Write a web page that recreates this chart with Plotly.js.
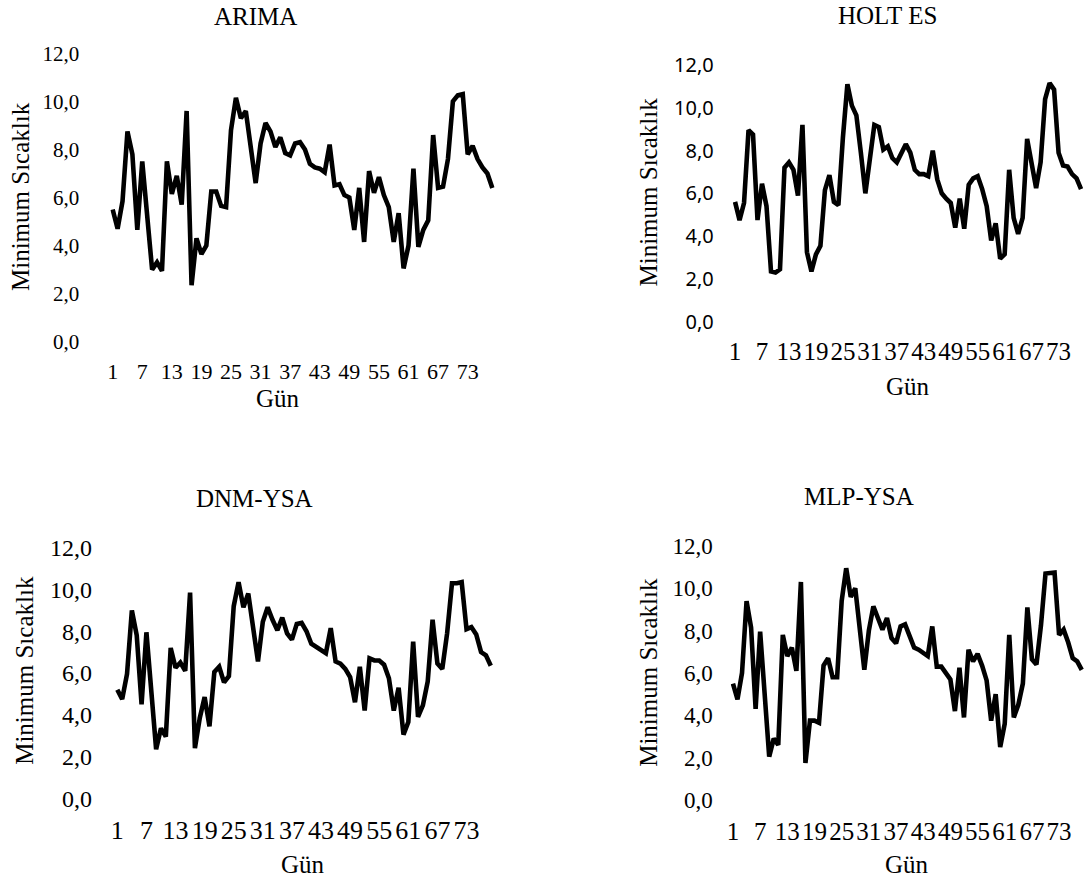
<!DOCTYPE html>
<html><head><meta charset="utf-8">
<script src="https://cdn.plot.ly/plotly-3.0.1.min.js"></script>
<style>html,body{margin:0;padding:0;background:#fff}#chart{width:1089px;height:880px}</style>
</head><body><div id="chart"></div>
<script>
// Day index (Gün)
const days = [1,2,3,4,5,6,7,8,9,10,11,12,13,14,15,16,17,18,19,20,21,22,23,24,25,26,27,28,29,30,31,32,33,34,35,36,37,38,39,40,41,42,43,44,45,46,47,48,49,50,51,52,53,54,55,56,57,58,59,60,61,62,63,64,65,66,67,68,69,70,71,72,73,74,75,76,77,78];

const arima = [5.5,4.7,5.85,8.75,7.8,4.65,7.5,5.0,3.0,3.3,
  2.95,7.5,6.15,6.9,5.7,9.6,2.35,4.3,3.65,4.0,
  6.25,6.25,5.65,5.6,8.8,10.15,9.3,9.6,8.0,6.6,
  8.25,9.1,8.75,8.1,8.5,7.85,7.75,8.25,8.3,8.0,
  7.4,7.25,7.2,7.05,8.2,6.5,6.55,6.1,6.0,4.65,
  6.4,4.15,7.1,6.2,6.85,6.1,5.6,4.15,5.35,3.05,
  4.0,7.2,3.95,4.65,5.05,8.6,6.4,6.45,7.6,10.0,
  10.25,10.3,7.8,8.15,7.6,7.25,7.0,6.4];

const holtEs = [5.6,4.75,5.55,8.95,8.75,4.75,6.45,5.4,2.35,2.3,
  2.45,7.2,7.45,7.1,5.9,9.2,3.25,2.35,3.15,3.55,
  6.15,6.85,5.6,5.45,8.6,11.1,10.1,9.65,7.9,6.0,
  7.6,9.2,9.1,8.05,8.2,7.65,7.45,7.9,8.3,7.9,
  7.1,6.9,6.9,6.8,8.0,6.65,6.0,5.75,5.55,4.4,
  5.75,4.35,6.4,6.7,6.8,6.2,5.4,3.8,4.6,2.95,
  3.15,7.1,4.85,4.1,4.85,8.55,7.45,6.25,7.45,10.4,
  11.15,10.85,7.9,7.3,7.25,6.9,6.7,6.2];

const dnmYsa = [5.2,4.75,5.95,9.0,7.8,4.5,7.95,5.4,2.35,3.35,
  2.95,7.2,6.25,6.5,6.1,9.85,2.4,3.85,4.85,3.45,
  6.05,6.3,5.55,5.85,9.2,10.35,9.15,9.8,8.15,6.55,
  8.45,9.15,8.55,8.05,8.65,7.9,7.6,8.35,8.4,8.0,
  7.4,7.25,7.15,6.95,8.15,6.55,6.45,6.2,5.8,4.6,
  6.3,4.2,6.7,6.6,6.6,6.4,5.75,4.2,5.3,3.05,
  3.65,7.5,3.9,4.45,5.6,8.55,6.45,6.2,7.9,10.3,
  10.3,10.35,8.1,8.2,7.85,7.0,6.85,6.35];

const mlpYsa = [5.5,4.75,6.0,9.4,8.15,4.3,7.95,5.0,2.05,2.9,
  2.6,7.8,6.8,7.2,6.1,10.3,1.75,3.75,3.75,3.65,
  6.35,6.7,5.8,5.8,9.4,10.95,9.6,10.0,8.1,6.15,
  8.0,9.15,8.6,8.05,8.6,7.65,7.4,8.2,8.3,7.75,
  7.2,7.1,6.95,6.8,8.2,6.3,6.3,5.95,5.7,4.2,
  6.25,3.9,7.1,6.55,6.9,6.35,5.65,3.75,5.0,2.5,
  3.6,7.8,3.9,4.5,5.5,9.1,6.65,6.4,8.25,10.7,
  10.75,10.75,7.8,8.05,7.45,6.7,6.55,6.15];

const xTickVals = [1,7,13,19,25,31,37,43,49,55,61,67,73];
const xTickText = ["1","7","13","19","25","31","37","43","49","55","61","67","73"];
const yTickVals = [0,2,4,6,8,10,12];
const yTickText = ["0,0","2,0","4,0","6,0","8,0","10,0","12,0"];

const panelTitles = ["ARIMA","HOLT ES","DNM-YSA","MLP-YSA"];
const xTitle = "Gün";
const yTitle = "Minimum Sıcaklık";

const SERIF = "Liberation Serif, Times New Roman, serif";
const SANS = "Noto Sans, Open Sans, sans-serif";
const W = 1089, H = 880;

// pixel boxes of the plot areas [left, right, top, bottom]
const boxes = [
  [110.2, 494.8, 53.3, 341.7],
  [732.8, 1083.3, 65.0, 321.7],
  [114.9, 493.2, 547.7, 798.3],
  [730.7, 1084.0, 546.0, 800.0]
];
const tickFonts = [
  {x: 22, y: 21, yfam: SERIF},
  {x: 25, y: 20, yfam: SANS},
  {x: 26, y: 24, yfam: SERIF},
  {x: 25, y: 23, yfam: SERIF}
];
const yStandoff = [30, 18, 22, 17];
const xStandoff = [14, 12, 14, 14];

const series = [arima, holtEs, dnmYsa, mlpYsa];
const data = [];
const layout = {
  width: W, height: H,
  margin: {l:0, r:0, t:0, b:0},
  paper_bgcolor: "#fff", plot_bgcolor: "#fff",
  showlegend: false,
  font: {family: SERIF, color: "#000"},
  annotations: []
};

series.forEach((s, i) => {
  const n = i + 1;
  const xa = n === 1 ? "x" : "x" + n;
  const ya = n === 1 ? "y" : "y" + n;
  data.push({
    x: days, y: s, xaxis: xa, yaxis: ya,
    type: "scatter", mode: "lines",
    line: {color: "#000", width: 4.6, shape: "linear"},
    hoverinfo: "skip"
  });
  const b = boxes[i];
  const f = tickFonts[i];
  layout[n === 1 ? "xaxis" : "xaxis" + n] = {
    domain: [b[0] / W, b[1] / W], anchor: ya,
    range: [0.5, 78.5], tickmode: "array", tickvals: xTickVals, ticktext: xTickText,
    showgrid: false, zeroline: false, showline: false, ticks: "",
    tickangle: 0,
    ticklabelstandoff: xStandoff[i],
    tickfont: {family: SERIF, size: f.x, color: "#000"}, fixedrange: true
  };
  layout[n === 1 ? "yaxis" : "yaxis" + n] = {
    domain: [1 - b[3] / H, 1 - b[2] / H], anchor: xa,
    range: [0, 12], tickmode: "array", tickvals: yTickVals, ticktext: yTickText,
    showgrid: false, zeroline: false, showline: false, ticks: "",
    ticklabelstandoff: yStandoff[i],
    tickfont: {family: f.yfam, size: f.y, color: "#000"}, fixedrange: true
  };
});

// annotation positions in pixels
const titlePos = [[255, 17], [887, 15], [254.7, 498.3], [859.2, 496.7]];
const xTitlePos = [[278, 398], [908, 386.7], [303.3, 864], [906.7, 864]];
const yTitlePos = [[20, 197], [648, 192.5], [25, 670.8], [648.3, 672.5]];

function ann(text, p, size, angle) {
  return {text: text, x: p[0] / W, y: 1 - p[1] / H, xref: "paper", yref: "paper",
    xanchor: "center", yanchor: "middle", showarrow: false, textangle: angle || 0,
    borderpad: 0,
    font: {family: SERIF, size: size, color: "#000"}};
}
for (let i = 0; i < 4; i++) {
  layout.annotations.push(ann(panelTitles[i], titlePos[i], 25));
  layout.annotations.push(ann(xTitle, xTitlePos[i], 25));
  layout.annotations.push(ann(yTitle, yTitlePos[i], 25, -90));
}

Plotly.newPlot("chart", data, layout, {displayModeBar: false, staticPlot: true});
</script>
</body></html>
